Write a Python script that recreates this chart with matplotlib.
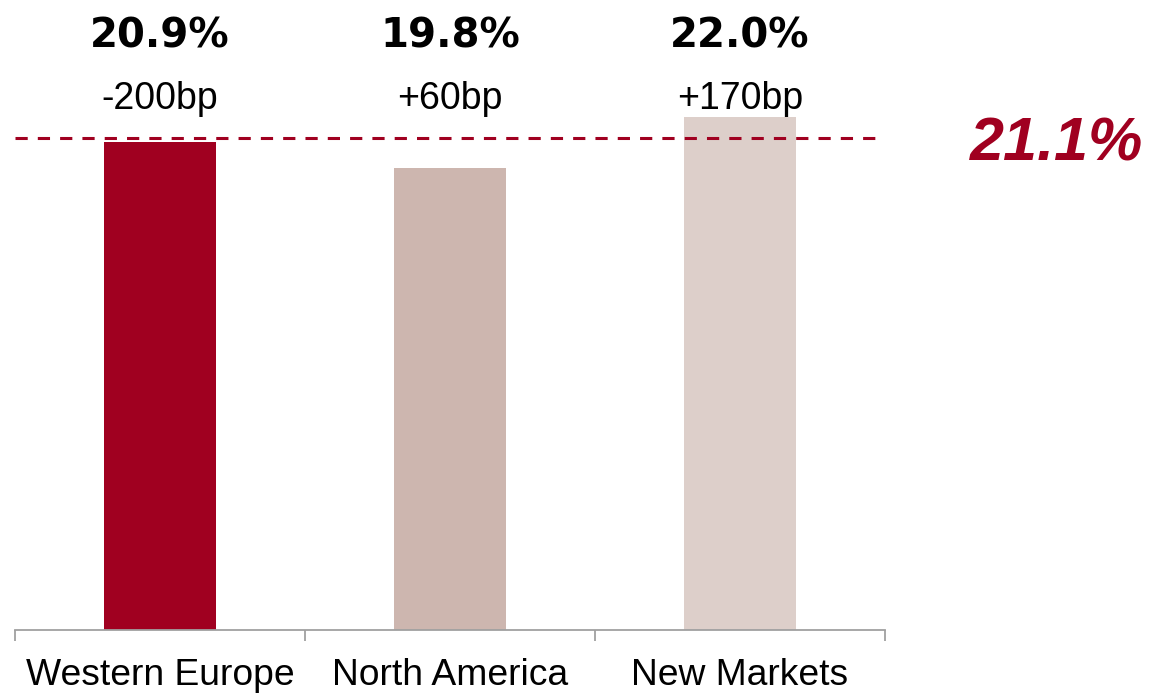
import matplotlib.pyplot as plt

# data
regions = ['Western Europe', 'North America', 'New Markets']
margins = [20.9, 19.8, 22.0]
changes = ['-200bp', '+60bp', '+170bp']
group_avg = 21.1
bar_colors = ['#A00020', '#CDB6AF', '#DDCFCA']
dark_red = '#A00020'

fig = plt.figure(figsize=(11.56, 6.95), dpi=100)
ax = fig.add_axes([15 / 1156, 65 / 695, 870 / 1156, 630 / 695])

x = range(len(regions))
ax.bar(x, margins, width=0.386, color=bar_colors, zorder=2)

# group average reference line
ax.axhline(group_avg, color=dark_red, linewidth=2.2, dashes=(4, 3.3), zorder=3)
ax.annotate(f'{group_avg:.1f}%', xy=(1.0, group_avg), xycoords=('axes fraction', 'data'),
            xytext=(85, -23), textcoords='offset pixels',
            ha='left', va='baseline', fontsize=44, fontweight='bold', fontstyle='italic',
            color=dark_red, family='Liberation Sans', annotation_clip=False)

# value and change labels above bars
for i, (m, c) in enumerate(zip(margins, changes)):
    ax.text(i, 25.42, f'{m:.1f}%', ha='center', va='center', fontsize=29,
            fontweight='bold', family='DejaVu Sans', clip_on=False)
    ax.text(i, 22.75, c, ha='center', va='center', fontsize=27,
            family='Liberation Sans', clip_on=False)

ax.set_xlim(-0.5, 2.5)
ax.set_ylim(0, 27.0)

for side in ['top', 'right', 'left']:
    ax.spines[side].set_visible(False)
ax.spines['bottom'].set_color('#A0A0A0')
ax.spines['bottom'].set_linewidth(1.3)
ax.set_yticks([])

# tick marks at category boundaries, labels centred under bars
ax.set_xticks([-0.5, 0.5, 1.5, 2.5])
ax.set_xticklabels([])
ax.tick_params(axis='x', which='major', direction='out', length=8,
               width=1.3, color='#A0A0A0')
ax.set_xticks(list(x), minor=True)
ax.set_xticklabels(regions, minor=True, fontsize=26.8, family='Liberation Sans')
ax.tick_params(axis='x', which='minor', length=0, pad=20)

fig.savefig('out.png', dpi=100)
plt.close(fig)
